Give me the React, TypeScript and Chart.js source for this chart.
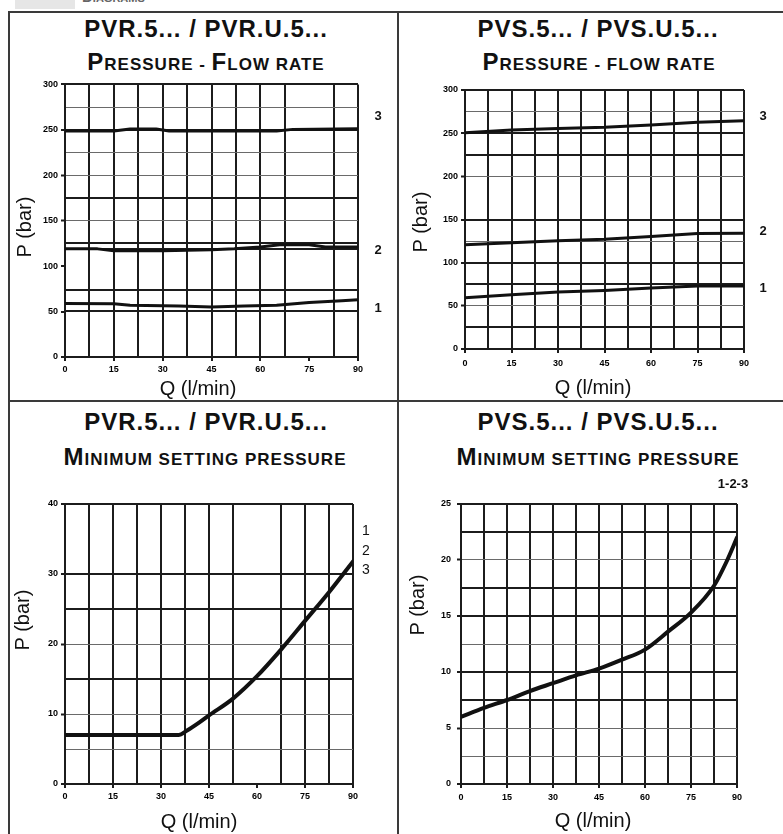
import React, { useEffect, useRef } from 'react';
import { Chart, registerables } from 'chart.js';

Chart.register(...registerables);

const FONT = '"Liberation Sans", Arial, Helvetica, sans-serif';

// ---------- Data ----------
// Panel 1: PVR pressure - flow rate
const P1_Q3 = [0, 15, 20, 28, 32, 65, 70, 90];
const P1_P3 = [248.7, 248.7, 251, 251, 248.7, 248.7, 250.5, 251.3];
const P1_Q2 = [0, 10, 15, 30, 45, 52, 60, 66, 75, 80, 90];
const P1_P2 = [119, 119, 117, 117, 118, 119, 121, 123.5, 123.5, 121, 121];
const P1_Q1 = [0, 15, 20, 35, 45, 55, 65, 75, 85, 90];
const P1_P1 = [59, 58.5, 57, 56, 55, 56, 57, 60, 62, 63];

// Panel 2: PVS pressure - flow rate
const P2_Q = [0, 15, 30, 45, 60, 75, 90];
const P2_P3 = [250.5, 253.7, 255.5, 256.8, 259.5, 262.6, 264.5];
const P2_P2 = [120.7, 123, 125.5, 127.2, 130.3, 133.8, 134.2];
const P2_P1 = [59.5, 62.8, 66, 67.8, 70.6, 73, 73];

// Panel 3: PVR minimum setting pressure
const P3_Q = [0, 15, 30, 35.5, 38, 42, 45, 52.5, 60, 67.5, 75, 82.5, 90];
const P3_P = [7, 7, 7, 7, 7.6, 8.8, 9.8, 12.2, 15.4, 19.2, 23.3, 27.4, 31.8];

// Panel 4: PVS minimum setting pressure
const P4_Q = [0, 7.5, 15, 22.5, 30, 37.5, 45, 52.5, 60, 67.5, 75, 82.5, 86.5, 90];
const P4_P = [6, 6.8, 7.5, 8.3, 9, 9.7, 10.3, 11.1, 12, 13.6, 15.3, 17.7, 19.8, 22];

// ---------- Axis ticks / grid ----------
const Q_GRID = [0, 7.5, 15, 22.5, 30, 37.5, 45, 52.5, 60, 67.5, 75, 82.5, 90];
const Q_LABELS = [0, 15, 30, 45, 60, 75, 90];

const P1_Y_GRID = [0, 50, 51, 74, 100, 119, 125, 150, 175, 200, 225, 250, 275, 300];
const P1_Y_LABELS = [0, 50, 100, 150, 200, 250, 300];
const P1_Y_HIDDEN = [50, 100];
const P1_Y_THIN = [150, 200, 225, 275];
const P1_X_HIDDEN = [75];

const P2_Y_GRID = [0, 25, 50, 75, 100, 125, 150, 200, 225, 250, 275, 300];
const P2_Y_LABELS = [0, 50, 100, 150, 200, 250, 300];
const P2_Y_THIN = [50, 125, 200, 275];

const P3_Y_GRID = [0, 5, 10, 15, 20, 25, 30, 40];
const P3_Y_LABELS = [0, 10, 20, 30, 40];
const P3_Y_THIN = [5, 10, 20];
const P3_X_HIDDEN = [60];

const P4_Y_GRID = [0, 2.5, 5, 7.5, 10, 12.5, 15, 17.5, 20, 22.5, 25];
const P4_Y_LABELS = [0, 5, 10, 15, 20, 25];
const P4_Y_THIN = [2.5, 5, 12.5, 20];

type Series = { q: number[]; p: number[] };
type Cfg = {
  series: Series[];
  yMax: number;
  yGrid: number[];
  yLabels: number[];
  yHidden: number[];
  yThin: number[];
  xHidden: number[];
  padTop: number;
  padRight: number;
  yAxisW: number;
  xAxisH: number;
  xPad: number;
  yPad: number;
  curveWidth: number;
  smooth: boolean;
};

const THICK = '#1c1c1c';
const THIN = '#6a6a6a';
const NONE = 'rgba(0,0,0,0)';
const TICK_FONT = { family: FONT, size: 9, weight: 'bold' };

function makeChart(canvas: HTMLCanvasElement, c: Cfg) {
  return new Chart(canvas, {
    type: 'line',
    data: {
      datasets: c.series.map((s) => ({
        data: s.q.map((q, i) => ({ x: q, y: s.p[i] })),
        borderColor: '#111',
        borderWidth: c.curveWidth,
        pointRadius: 0,
        fill: false,
        tension: c.smooth ? 0.4 : 0,
        cubicInterpolationMode: c.smooth ? 'monotone' : 'default',
        borderCapStyle: 'round',
        borderJoinStyle: 'round',
      })),
    },
    options: {
      animation: false,
      responsive: false,
      maintainAspectRatio: false,
      devicePixelRatio: 1,
      events: [],
      layout: { padding: { left: 0, top: c.padTop, right: c.padRight, bottom: 0 } },
      plugins: {
        legend: { display: false },
        tooltip: { enabled: false },
        title: { display: false },
      },
      scales: {
        x: {
          type: 'linear',
          min: 0,
          max: 90,
          afterBuildTicks: (s: any) => {
            s.ticks = Q_GRID.map((v) => ({ value: v }));
          },
          afterFit: (s: any) => {
            s.height = c.xAxisH;
          },
          ticks: {
            autoSkip: false,
            maxRotation: 0,
            padding: c.xPad,
            color: '#000',
            font: TICK_FONT,
            callback: (v: any) => (Q_LABELS.includes(Number(v)) ? String(v) : ''),
          },
          grid: {
            color: (ctx: any) => {
              const v = ctx.tick ? ctx.tick.value : -1;
              return c.xHidden.includes(v) ? NONE : THICK;
            },
            lineWidth: 2,
            tickLength: 4,
            tickWidth: 2,
            tickColor: (ctx: any) => {
              const v = ctx.tick ? ctx.tick.value : -1;
              return Q_LABELS.includes(v) ? THICK : NONE;
            },
          },
          border: { display: true, color: THICK, width: 2 },
        },
        y: {
          type: 'linear',
          min: 0,
          max: c.yMax,
          afterBuildTicks: (s: any) => {
            s.ticks = c.yGrid.map((v) => ({ value: v }));
          },
          afterFit: (s: any) => {
            s.width = c.yAxisW;
          },
          ticks: {
            autoSkip: false,
            padding: c.yPad,
            color: '#000',
            font: TICK_FONT,
            callback: (v: any) => (c.yLabels.includes(Number(v)) ? String(v) : ''),
          },
          grid: {
            color: (ctx: any) => {
              const v = ctx.tick ? ctx.tick.value : -1;
              if (c.yHidden.includes(v)) return NONE;
              return c.yThin.includes(v) ? THIN : THICK;
            },
            lineWidth: (ctx: any) => {
              const v = ctx.tick ? ctx.tick.value : -1;
              return c.yThin.includes(v) ? 1 : 2;
            },
            tickLength: 4,
            tickWidth: 2,
            tickColor: (ctx: any) => {
              const v = ctx.tick ? ctx.tick.value : -1;
              return c.yLabels.includes(v) ? THICK : NONE;
            },
          },
          border: { display: true, color: THICK, width: 2 },
        },
      },
    } as any,
  });
}

function ChartBox(props: { left: number; top: number; width: number; height: number; cfg: Cfg }) {
  const ref = useRef<HTMLCanvasElement | null>(null);
  useEffect(() => {
    if (!ref.current) return;
    const ch = makeChart(ref.current, props.cfg);
    return () => ch.destroy();
  }, []);
  return (
    <canvas
      ref={ref}
      width={props.width}
      height={props.height}
      style={{
        position: 'absolute',
        left: props.left,
        top: props.top,
        width: props.width,
        height: props.height,
      }}
    />
  );
}

function Txt(props: {
  x: number;
  y: number;
  children: React.ReactNode;
  size?: number;
  bold?: boolean;
  rotate?: boolean;
  color?: string;
  spacing?: number;
}) {
  return (
    <div
      style={{
        position: 'absolute',
        left: props.x,
        top: props.y,
        transform: `translate(-50%, -50%)${props.rotate ? ' rotate(-90deg)' : ''}`,
        whiteSpace: 'nowrap',
        fontFamily: FONT,
        fontSize: props.size ?? 20,
        fontWeight: props.bold ? 'bold' : 'normal',
        color: props.color ?? '#111',
        letterSpacing: props.spacing ?? 0,
        lineHeight: 1,
      }}
    >
      {props.children}
    </div>
  );
}

function Caps(props: { parts: [string, boolean][] }) {
  return (
    <>
      {props.parts.map(([t, big], i) => (
        <span key={i} style={{ fontSize: big ? 24 : 17 }}>
          {t}
        </span>
      ))}
    </>
  );
}

const cfg1: Cfg = {
  series: [
    { q: P1_Q3, p: P1_P3 },
    { q: P1_Q2, p: P1_P2 },
    { q: P1_Q1, p: P1_P1 },
  ],
  yMax: 300,
  yGrid: P1_Y_GRID,
  yLabels: P1_Y_LABELS,
  yHidden: P1_Y_HIDDEN,
  yThin: P1_Y_THIN,
  xHidden: P1_X_HIDDEN,
  padTop: 7,
  padRight: 42,
  yAxisW: 35,
  xAxisH: 43,
  xPad: 3,
  yPad: 3,
  curveWidth: 3,
  smooth: false,
};

const cfg2: Cfg = {
  series: [
    { q: P2_Q, p: P2_P3 },
    { q: P2_Q, p: P2_P2 },
    { q: P2_Q, p: P2_P1 },
  ],
  yMax: 300,
  yGrid: P2_Y_GRID,
  yLabels: P2_Y_LABELS,
  yHidden: [],
  yThin: P2_Y_THIN,
  xHidden: [],
  padTop: 14,
  padRight: 39,
  yAxisW: 40,
  xAxisH: 51,
  xPad: 5,
  yPad: 3,
  curveWidth: 3,
  smooth: false,
};

const cfg3: Cfg = {
  series: [{ q: P3_Q, p: P3_P }],
  yMax: 40,
  yGrid: P3_Y_GRID,
  yLabels: P3_Y_LABELS,
  yHidden: [],
  yThin: P3_Y_THIN,
  xHidden: P3_X_HIDDEN,
  padTop: 24,
  padRight: 47,
  yAxisW: 35,
  xAxisH: 50,
  xPad: 3,
  yPad: 3,
  curveWidth: 4,
  smooth: true,
};

const cfg4: Cfg = {
  series: [{ q: P4_Q, p: P4_P }],
  yMax: 25,
  yGrid: P4_Y_GRID,
  yLabels: P4_Y_LABELS,
  yHidden: [],
  yThin: P4_Y_THIN,
  xHidden: [],
  padTop: 24,
  padRight: 46,
  yAxisW: 36,
  xAxisH: 50,
  xPad: 4,
  yPad: 6,
  curveWidth: 4,
  smooth: true,
};

export default function App() {
  const line = '#3a3a3a';
  return (
    <div
      style={{
        position: 'absolute',
        left: 0,
        top: 0,
        width: 783,
        height: 834,
        overflow: 'hidden',
        background: '#fff',
      }}
    >
      {/* header remnant */}
      <div style={{ position: 'absolute', left: 15, top: 0, width: 60, height: 9, background: '#e6e6e6' }} />
      <div
        style={{
          position: 'absolute',
          left: 82,
          top: -11,
          fontFamily: FONT,
          fontSize: 15,
          fontWeight: 'bold',
          color: '#666',
          lineHeight: 1,
        }}
      >
        D<span style={{ fontSize: 11 }}>IAGRAMS</span>
      </div>

      {/* frame */}
      <div style={{ position: 'absolute', left: 8, top: 11, width: 775, height: 2, background: line }} />
      <div style={{ position: 'absolute', left: 8, top: 11, width: 2, height: 823, background: line }} />
      <div style={{ position: 'absolute', left: 397, top: 11, width: 2, height: 823, background: line }} />
      <div style={{ position: 'absolute', left: 8, top: 400, width: 775, height: 2, background: line }} />

      {/* titles */}
      <Txt x={206} y={29} size={24} bold spacing={1}>PVR.5... / PVR.U.5...</Txt>
      <Txt x={206} y={62} bold spacing={1}>
        <Caps parts={[['P', true], ['RESSURE - ', false], ['F', true], ['LOW RATE', false]]} />
      </Txt>
      <Txt x={598} y={29} size={24} bold spacing={1}>PVS.5... / PVS.U.5...</Txt>
      <Txt x={599} y={62} bold spacing={1}>
        <Caps parts={[['P', true], ['RESSURE - FLOW RATE', false]]} />
      </Txt>
      <Txt x={206} y={422} size={24} bold spacing={1}>PVR.5... / PVR.U.5...</Txt>
      <Txt x={205} y={457} bold spacing={1}>
        <Caps parts={[['M', true], ['INIMUM SETTING PRESSURE', false]]} />
      </Txt>
      <Txt x={598} y={422} size={24} bold spacing={1}>PVS.5... / PVS.U.5...</Txt>
      <Txt x={598} y={457} bold spacing={1}>
        <Caps parts={[['M', true], ['INIMUM SETTING PRESSURE', false]]} />
      </Txt>

      {/* charts */}
      <ChartBox left={30} top={76} width={370} height={324} cfg={cfg1} />
      <ChartBox left={425} top={76} width={358} height={324} cfg={cfg2} />
      <ChartBox left={30} top={480} width={370} height={354} cfg={cfg3} />
      <ChartBox left={425} top={480} width={358} height={354} cfg={cfg4} />

      {/* axis titles */}
      <Txt x={24} y={227} rotate>P (bar)</Txt>
      <Txt x={198} y={388}>Q (l/min)</Txt>
      <Txt x={420} y={222} rotate>P (bar)</Txt>
      <Txt x={593} y={387}>Q (l/min)</Txt>
      <Txt x={22} y={620} rotate>P (bar)</Txt>
      <Txt x={199} y={821}>Q (l/min)</Txt>
      <Txt x={417} y={605} rotate>P (bar)</Txt>
      <Txt x={593} y={820}>Q (l/min)</Txt>

      {/* curve labels */}
      <Txt x={378} y={115} size={13} bold>3</Txt>
      <Txt x={378} y={249} size={13} bold>2</Txt>
      <Txt x={378} y={307} size={13} bold>1</Txt>
      <Txt x={763} y={115} size={13} bold>3</Txt>
      <Txt x={763} y={230} size={13} bold>2</Txt>
      <Txt x={763} y={287} size={13} bold>1</Txt>
      <Txt x={366} y={530} size={14}>1</Txt>
      <Txt x={366} y={550} size={14}>2</Txt>
      <Txt x={366} y={569} size={14}>3</Txt>
      <Txt x={733} y={483} size={13} bold>1-2-3</Txt>
    </div>
  );
}
